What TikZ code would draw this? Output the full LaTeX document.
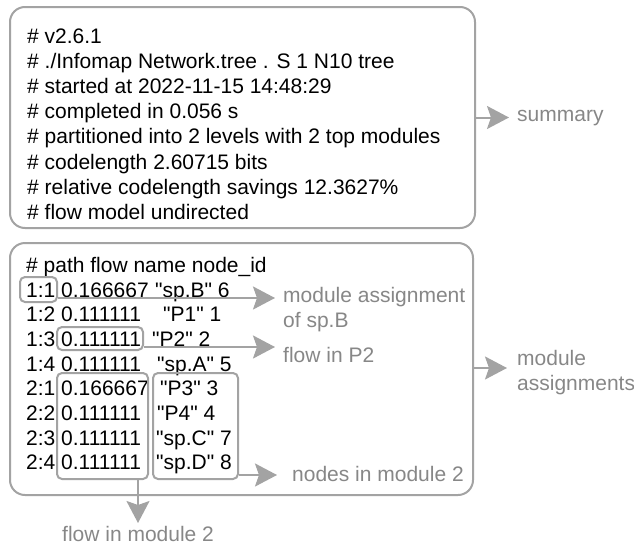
\documentclass[tikz,border=0pt]{standalone}
\usepackage{fontspec}
\setmainfont{Liberation Sans}[Ligatures=TeXOff]
\usepackage{tikz}
\usetikzlibrary{arrows.meta}

\definecolor{framegray}{RGB}{163,163,163}
\definecolor{notegray}{RGB}{135,135,135}
\tikzset{
  panel/.style={draw=framegray, line width=2pt, rounded corners=15pt, fill=white, inner sep=0pt},
  hilite/.style={draw=framegray, line width=2pt, rounded corners=5pt, inner sep=0pt},
  pointer/.style={draw=framegray, line width=2pt, -{Stealth[length=22pt,width=23pt,inset=4pt]}},
  txt/.style={anchor=base west, inner sep=0pt, font=\fontsize{21}{25}\selectfont},
  note/.style={txt, text=notegray},
}

\begin{document}
\begin{tikzpicture}[x=1pt,y=-1pt]
\useasboundingbox (0,0) rectangle (634,546);
% header block of the .tree file
\node (sum) [panel, minimum width=465pt, minimum height=221pt] at (242.5,117.5) {};
\node (l1) [txt] at (27,43.5)  {\# v2.6.1};
\node (l2) [txt] at (27,68.6)  {\# ./Infomap Network.tree . S 1 N10 tree};
\node (l3) [txt] at (27,93.7)  {\# started at 2022-11-15 14:48:29};
\node (l4) [txt] at (27,118.8) {\# completed in 0.056 s};
\node (l5) [txt] at (27,143.9) {\# partitioned into 2 levels with 2 top modules};
\node (l6) [txt] at (27,169.0) {\# codelength 2.60715 bits};
\node (l7) [txt] at (27,194.1) {\# relative codelength savings 12.3627\%};
\node (l8) [txt] at (27,219.2) {\# flow model undirected};
%
% module rows
\node (asg) [panel, minimum width=463pt, minimum height=252pt] at (241.5,369) {};
\node (hd) [txt] at (26,272) {\# path flow name node\_id};
\node (r1) [txt] at (26,297.0) {1:1 0.166667};
\node (r2) [txt] at (26,321.7) {1:2 0.111111};
\node (r3) [txt] at (26,346.4) {1:3 0.111111};
\node (r4) [txt] at (26,371.1) {1:4 0.111111};
\node (r5) [txt] at (26,395.8) {2:1 0.166667};
\node (r6) [txt] at (26,420.5) {2:2 0.111111};
\node (r7) [txt] at (26,445.2) {2:3 0.111111};
\node (r8) [txt] at (26,469.9) {2:4 0.111111};
\node (n1) [txt] at (155,297.0) {"sp.B" 6};
\node (n2) [txt] at (163,321.7) {"P1" 1};
\node (n3) [txt] at (152,346.4) {"P2" 2};
\node (n4) [txt] at (157,371.1) {"sp.A" 5};
\node (n5) [txt] at (160,395.8) {"P3" 3};
\node (n6) [txt] at (157,420.5) {"P4" 4};
\node (n7) [txt] at (156,445.2) {"sp.C" 7};
\node (n8) [txt] at (156,469.9) {"sp.D" 8};
%
% highlighted cells
\node (p11) [hilite, minimum width=37pt, minimum height=25pt] at (38.5,289.5) {};
\node (f13) [hilite, minimum width=86pt, minimum height=23pt] at (100,338.5) {};
\node (fmod) [hilite, minimum width=91pt, minimum height=106pt] at (102.5,426) {};
\node (nmod) [hilite, minimum width=85pt, minimum height=106pt] at (195.5,426) {};
%
% labels
\node (sumlab) [note] at (517,121) {summary};
\node (asglab) [note] at (517,365) {module};
\node (asglab2) [note] at (517,390) {assignments};
\node (p11lab) [note] at (283,302) {module assignment};
\node (p11lab2) [note] at (283,327) {of sp.B};
\node (f13lab) [note] at (283,362) {flow in P2};
\node (nmodlab) [note] at (292,481) {nodes in module 2};
\node (fmodlab) [note] at (62,541.5) {flow in module 2};
%
\coordinate (tS) at (509,117.5);
\coordinate (tA) at (507,368);
\coordinate (t11) at (275,298);
\coordinate (t13) at (275,347);
\coordinate (tN) at (277,475);
\coordinate (tF) at (138,523);
\draw[pointer] (sum.east |- tS) -- (tS);
\draw[pointer] (asg.east |- tA) -- (tA);
\draw[pointer] (p11.east |- t11) -- (t11);
\draw[pointer] (f13.east |- t13) -- (t13);
\draw[pointer] (nmod.east |- tN) -- (tN);
\draw[pointer] (fmod.south -| tF) -- (tF);
\end{tikzpicture}
\end{document}
